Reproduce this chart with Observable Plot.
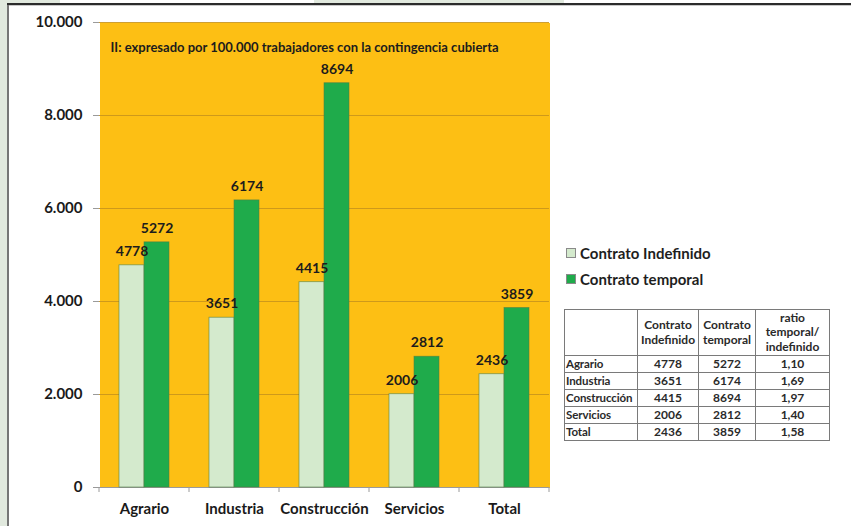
<!DOCTYPE html>
<html>
<head>
<meta charset="utf-8">
<script src="https://cdn.jsdelivr.net/npm/d3@7"></script>
<script src="https://cdn.jsdelivr.net/npm/@observablehq/plot@0.6"></script>
<style>
  html, body { margin: 0; padding: 0; background: #fff; }
  #wrap { position: relative; width: 851px; height: 526px; overflow: hidden; background: #fff; font-family: Lato, "Open Sans", sans-serif; }
  #edgeL { position: absolute; left: 0; top: 0; width: 7px; height: 526px; background: #e1e9de; }
  #edgeT1 { position: absolute; left: 0; top: 0; width: 60px; height: 3px; background: #e1e9de; }
  #edgeT2 { position: absolute; left: 314px; top: 0; width: 250px; height: 3px; background: #e1e9de; }
  #lineL { position: absolute; left: 7px; top: 3px; width: 2px; height: 523px; background: #767676; }
  #lineT { position: absolute; left: 7px; top: 3px; width: 844px; height: 2px; background: #2b2b2b; }
  #lineT2 { position: absolute; left: 9px; top: 5px; width: 842px; height: 1px; background: #c8c8c8; }
  #chart { position: absolute; left: 0; top: 0; }
  #legend { position: absolute; left: 566px; top: 240px; color: #1e1e1e; font-size: 15px; font-weight: bold; }
  .li { position: absolute; left: 0; white-space: nowrap; height: 18px; line-height: 18px; }
  .sw { position: absolute; left: 0; top: 4px; width: 8px; height: 8px; border: 1px solid #8a8a8a; }
  .lt { position: absolute; left: 14px; top: 0; }
  #tbl { position: absolute; left: 564px; top: 309px; border-collapse: collapse; font-size: 12px; color: #2a2a2a; font-weight: bold; }
  #tbl td { border: 1px solid #7a7a7a; padding: 0; height: 16px; line-height: 14px; text-align: center; }
  #tbl td.c0 { text-align: left; padding-left: 1px; font-size: 11.5px; letter-spacing: -0.1px; }
  #tbl tr.h td { height: 45px; line-height: 14.5px; }
  svg g[aria-label="y-axis tick label"] text, svg g[aria-label="fx-axis tick label"] text { font-weight: bold; }
</style>
</head>
<body>
<div id="wrap">
  <div id="edgeL"></div><div id="edgeT1"></div><div id="edgeT2"></div>
  <div id="chart"></div>
  <div id="lineL"></div><div id="lineT"></div><div id="lineT2"></div>
  <div id="legend"></div>
  <table id="tbl"></table>
</div>
<script>
// ---- data ----
const categories = ["Agrario", "Industria", "Construcción", "Servicios", "Total"];
const seriesNames = ["Contrato Indefinido", "Contrato temporal"];
const indefinido = [4778, 3651, 4415, 2006, 2436];
const temporal = [5272, 6174, 8694, 2812, 3859];
const ratioLabels = ["1,10", "1,69", "1,97", "1,40", "1,58"];
const yTicks = [0, 2000, 4000, 6000, 8000, 10000];
const yTickLabels = ["0", "2.000", "4.000", "6.000", "8.000", "10.000"];
const noteText = "II: expresado por 100.000 trabajadores con la contingencia cubierta";
const tableHeader = [[], ["Contrato", "Indefinido"], ["Contrato", "temporal"], ["ratio", "temporal/", "indefinido"]];
const seriesColors = ["#d4eacd", "#1fab4b"];

// ---- build table for plot ----
const rows = [];
categories.forEach((c, i) => {
  rows.push({cat: c, series: seriesNames[0], value: indefinido[i]});
  rows.push({cat: c, series: seriesNames[1], value: temporal[i]});
});

const W = 851, H = 526;
const plot = Plot.plot({
  width: W,
  height: H,
  marginLeft: 99,
  marginRight: 302,
  marginTop: 22,
  marginBottom: 39,
  style: { background: "none", fontFamily: "Lato, 'Open Sans', sans-serif", color: "#1a1a1a", overflow: "visible" },
  fx: { domain: categories, padding: 0, label: null },
  x: { domain: seriesNames, paddingInner: 0, paddingOuter: 0.765, axis: null, label: null },
  y: { domain: [0, 10000], label: null },
  color: { domain: seriesNames, range: seriesColors },
  marks: [
    Plot.frame({ fill: "#fdbf14", stroke: null, shapeRendering: "crispEdges" }),
    Plot.gridY({ ticks: yTicks.filter(d => d > 0), stroke: "#c9951c", strokeOpacity: 0.9, strokeWidth: 1 }),
    Plot.ruleY([0], { stroke: "#9a9a9a" }),
    Plot.barY(rows, {
      fx: "cat", x: "series", y: "value", fill: "series",
      stroke: "#4f7d45", strokeOpacity: 0.7, strokeWidth: 0.8,
      insetLeft: 0, insetRight: 0
    }),
    Plot.text(rows, {
      fx: "cat", x: "series", y: "value", text: d => String(d.value),
      dy: -14, fontSize: 14, fontWeight: "bold", fill: "#1c1c1c"
    }),
    Plot.text([noteText], {
      fx: [categories[0]], text: d => d, frameAnchor: "top-left",
      textAnchor: "start", lineAnchor: "middle", dx: 11, dy: 25,
      fontSize: 13, fontWeight: "bold", fill: "#1c1c1c"
    }),
    Plot.axisY({
      anchor: "left",
      ticks: yTicks, tickFormat: d => yTickLabels[yTicks.indexOf(d)],
      tickSize: 6, tickPadding: 11, fontSize: 15, fontWeight: "bold",
      stroke: "#9a9a9a", fill: "#1a1a1a", label: null
    }),
    Plot.axisFx({
      anchor: "bottom",
      tickSize: 0, tickPadding: 16, fontSize: 15, fontWeight: "bold",
      fill: "#1a1a1a", label: null
    })
  ]
});
document.getElementById("chart").appendChild(plot);

// category boundary ticks (Excel style), placed with the plot's own scales
(function () {
  const fx = plot.scale("fx");
  const y = plot.scale("y");
  const y0 = y.apply(0);
  const edges = categories.map(c => fx.apply(c));
  edges.push(fx.apply(categories[categories.length - 1]) + fx.bandwidth);
  const svg = d3.select(plot);
  const g = svg.append("g").attr("stroke", "#9a9a9a").attr("stroke-width", 1);
  edges.forEach(e => {
    g.append("line").attr("x1", e).attr("x2", e).attr("y1", y0).attr("y2", y0 + 5);
  });
})();

// legend
const legend = document.getElementById("legend");
seriesNames.forEach((s, i) => {
  const d = document.createElement("div");
  d.className = "li";
  d.style.top = (4 + i * 26) + "px";
  const sw = document.createElement("span");
  sw.className = "sw";
  sw.style.background = seriesColors[i];
  const t = document.createElement("span");
  t.className = "lt";
  t.textContent = s;
  d.appendChild(sw); d.appendChild(t);
  legend.appendChild(d);
});

// table
const tbl = document.getElementById("tbl");
const colW = [72, 60, 56, 73];
const hr = document.createElement("tr");
hr.className = "h";
tableHeader.forEach((lines, j) => {
  const td = document.createElement("td");
  td.style.width = colW[j] + "px";
  lines.forEach((ln, k) => {
    if (k > 0) td.appendChild(document.createElement("br"));
    td.appendChild(document.createTextNode(ln));
  });
  hr.appendChild(td);
});
tbl.appendChild(hr);
categories.forEach((c, i) => {
  const tr = document.createElement("tr");
  [c, String(indefinido[i]), String(temporal[i]), ratioLabels[i]].forEach((v, j) => {
    const td = document.createElement("td");
    if (j === 0) td.className = "c0";
    td.textContent = v;
    tr.appendChild(td);
  });
  tbl.appendChild(tr);
});
</script>
</body>
</html>
